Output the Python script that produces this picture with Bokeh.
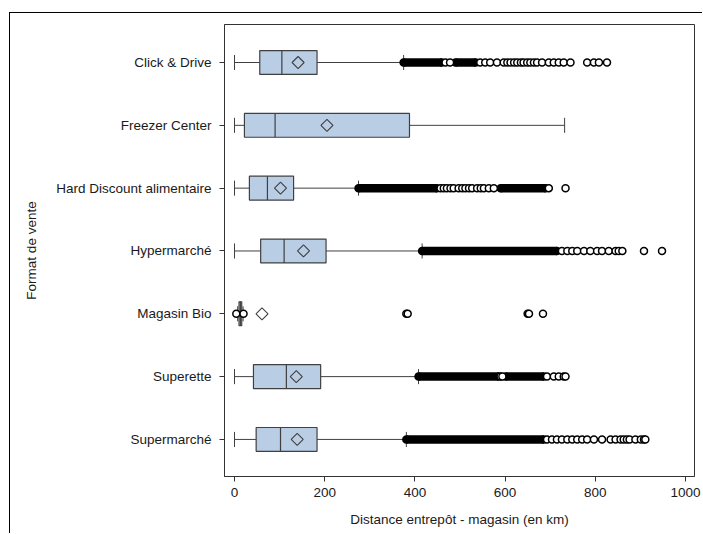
import math
from bokeh.plotting import figure
from bokeh.models import FixedTicker, Range1d, ColumnDataSource
from bokeh.embed import file_html
from bokeh.resources import INLINE

# ---------------- data ----------------
categories = ["Click & Drive", "Freezer Center", "Hard Discount alimentaire",
              "Hypermarché", "Magasin Bio", "Superette", "Supermarché"]
whisker_low = [0, 0, 0, 0, 7, 0, 0]
q1 = [56, 22, 33, 58, 10, 42, 48]
median = [105, 90, 73, 110, 13, 115, 102]
q3 = [183, 388, 131, 203, 16, 191, 183]
whisker_high = [375, 732, 275, 416, 19, 408, 381]
mean = [141, 205, 102, 153, 61, 137, 139]

# dense runs of overlapping outliers (start, end) per category
dense_click = [(375, 460), (490, 535)]
dense_freezer = []
dense_hard = [(275, 449), (590, 690)]
dense_hyper = [(416, 715)]
dense_bio = []
dense_superette = [(408, 586), (601, 686)]
dense_super = [(381, 686)]

# individual outliers per category
out_click = [468, 478, 545, 556, 567, 582, 597, 605, 612, 620, 627, 635, 641, 649,
             656, 664, 671, 682, 697, 708, 719, 730, 745, 782, 797, 808, 826]
out_freezer = []
out_hard = [457, 464, 471, 479, 486, 497, 505, 512, 520, 527, 538, 546, 553, 564,
            575, 697, 734]
out_hyper = [726, 738, 749, 760, 775, 789, 804, 815, 830, 845, 852, 860, 908, 948]
out_bio = [4, 20, 381, 384, 650, 653, 684]
out_superette = [590, 594, 693, 708, 719, 730, 734]
out_super = [693, 704, 715, 726, 738, 749, 760, 771, 782, 797, 815, 834, 845, 856,
             863, 870, 876, 889, 901, 908, 911]

x_ticks = [0, 200, 400, 600, 800, 1000]

dense_all = [dense_click, dense_freezer, dense_hard, dense_hyper, dense_bio,
             dense_superette, dense_super]
out_all = [out_click, out_freezer, out_hard, out_hyper, out_bio, out_superette,
           out_super]

# ---------------- figure ----------------
n = len(categories)
ypos = [n - 1 - i for i in range(n)]  # first category on top

FONT = "Liberation Sans"
TXT = "#1a1a1a"
LINE = "#404040"
BOX_FILL = "#b9cde5"

p = figure(width=693, height=521,
           x_range=Range1d(-22.2, 1020), y_range=Range1d(-0.59, 6.605),
           output_backend="svg", toolbar_location=None,
           min_border_left=214, min_border_right=9,
           min_border_top=11, min_border_bottom=58)
p.styles = {"margin-left": "9px", "margin-top": "12px",
            "border-left": "1px solid black", "border-top": "1px solid black"}
p.background_fill_color = "white"
p.border_fill_color = "white"
p.outline_line_color = "#333333"
p.outline_line_width = 1
p.xgrid.visible = False
p.ygrid.visible = False

src = ColumnDataSource(dict(y=ypos, lo=whisker_low, q1=q1, med=median, q3=q3,
                            hi=whisker_high, mean=mean))

BOX_H = 0.38
CAP_H = 0.24

# whiskers
p.segment(x0="lo", y0="y", x1="q1", y1="y", source=src, line_color=LINE, line_width=1)
p.segment(x0="q3", y0="y", x1="hi", y1="y", source=src, line_color=LINE, line_width=1)
# caps
src_caps = ColumnDataSource(dict(
    x=whisker_low + whisker_high,
    y0=[y - CAP_H / 2 for y in ypos] * 2,
    y1=[y + CAP_H / 2 for y in ypos] * 2))
p.segment(x0="x", y0="y0", x1="x", y1="y1", source=src_caps, line_color=LINE, line_width=1)
# boxes
p.hbar(y="y", left="q1", right="q3", height=BOX_H, source=src,
       fill_color=BOX_FILL, line_color=LINE, line_width=1.2)
# median
src_med = ColumnDataSource(dict(x=median,
                                y0=[y - BOX_H / 2 for y in ypos],
                                y1=[y + BOX_H / 2 for y in ypos]))
p.segment(x0="x", y0="y0", x1="x", y1="y1", source=src_med, line_color=LINE, line_width=1.2)

# mean markers
p.scatter(x="mean", y="y", source=src, marker="square", size=8.5, angle=math.pi / 4,
          fill_color=None, line_color=LINE, line_width=1.1)

# dense outlier runs
d_left, d_right, d_y = [], [], []
for yy, runs in zip(ypos, dense_all):
    for a, b in runs:
        d_left.append(a)
        d_right.append(b)
        d_y.append(yy)
CIRC_H = 8.5 / 62.82
p.hbar(y=d_y, left=d_left, right=d_right, height=CIRC_H,
       fill_color="black", line_color="black", line_width=0)
p.scatter(x=d_left + d_right, y=d_y + d_y, marker="circle", size=7,
          fill_color="black", line_color="black", line_width=1.5)

# individual outliers
o_x, o_y = [], []
for yy, vals in zip(ypos, out_all):
    for v in vals:
        o_x.append(v)
        o_y.append(yy)
p.scatter(x=o_x, y=o_y, marker="circle", size=7,
          fill_color="white", line_color="black", line_width=1.5)

# ---------------- axes ----------------
p.xaxis.ticker = FixedTicker(ticks=x_ticks)
p.xaxis.axis_label = "Distance entrepôt - magasin (en km)"
p.yaxis.ticker = FixedTicker(ticks=ypos)
p.yaxis.major_label_overrides = {yy: c for yy, c in zip(ypos, categories)}
p.yaxis.axis_label = "Format de vente"

for ax in (p.xaxis[0], p.yaxis[0]):
    ax.minor_tick_line_color = None
    ax.major_tick_in = 0
    ax.major_tick_out = 5
    ax.major_tick_line_color = "#333333"
    ax.axis_line_color = "#333333"
    ax.major_label_text_font = FONT
    ax.major_label_text_font_size = "13.5px"
    ax.major_label_text_color = TXT
    ax.axis_label_text_font = FONT
    ax.axis_label_text_font_size = "13.5px"
    ax.axis_label_text_font_style = "normal"
    ax.axis_label_text_color = TXT

p.yaxis.major_label_standoff = 8
p.xaxis.major_label_standoff = 6
p.xaxis.axis_label_standoff = 12
p.yaxis.axis_label_standoff = 14

open("out.html", "w").write(file_html(p, INLINE))
